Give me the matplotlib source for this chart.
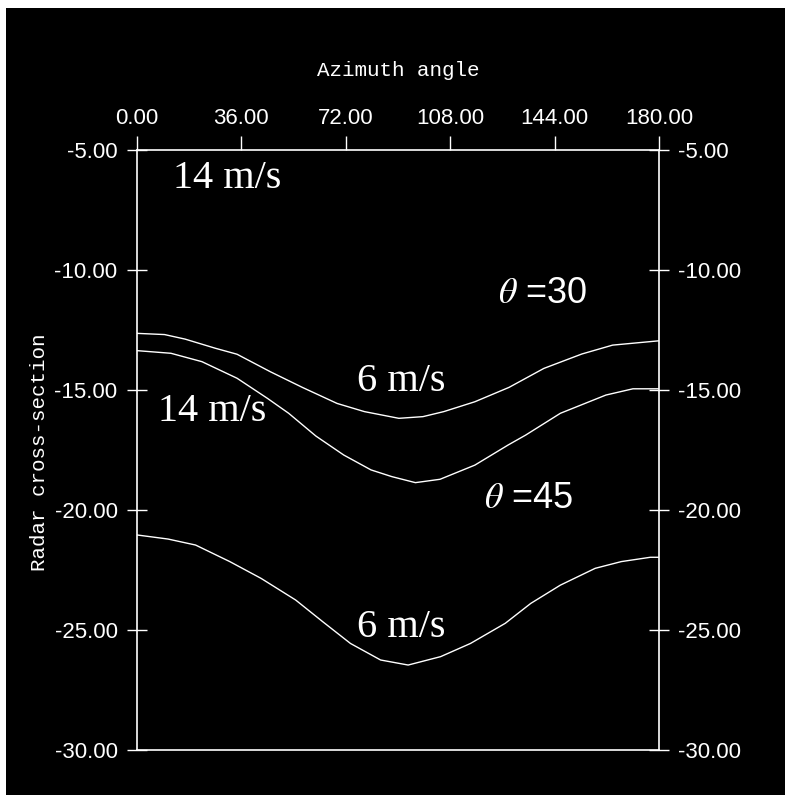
import matplotlib
matplotlib.use("Agg")
import matplotlib.pyplot as plt
from matplotlib import font_manager
from matplotlib.patches import Rectangle

# azimuth (deg) / radar cross-section
az1 = [0, 9.5, 16.6, 27, 34.5, 46, 57, 69, 78.4, 90.3, 98.6, 105.8, 116.5, 128.3, 140.3, 153.4, 164, 180]
rcs1 = [-12.64, -12.69, -12.88, -13.26, -13.51, -14.24, -14.89, -15.56, -15.9, -16.18, -16.11, -15.9,
        -15.49, -14.89, -14.1, -13.5, -13.13, -12.95]

az2 = [0, 11.7, 22.4, 34.5, 45, 52.3, 61.7, 71.3, 80.7, 87.9, 96, 104.5, 116.5, 128, 134, 146, 161.7, 171, 180]
rcs2 = [-13.36, -13.47, -13.82, -14.51, -15.35, -15.97, -16.92, -17.71, -18.33, -18.61, -18.86, -18.72,
        -18.13, -17.29, -16.88, -15.97, -15.21, -14.95, -14.95]

az3 = [0, 10.7, 20.2, 32, 42.8, 54.7, 64, 73.6, 84, 93.5, 104.7, 115, 127, 135.8, 146, 158, 167, 177, 180]
rcs3 = [-21.04, -21.21, -21.46, -22.15, -22.85, -23.75, -24.65, -25.56, -26.25, -26.46, -26.11, -25.56,
        -24.72, -23.89, -23.13, -22.43, -22.15, -21.97, -21.97]

xticks = [0, 36, 72, 108, 144, 180]
yticks = [-5, -10, -15, -20, -25, -30]

# text labels: (x, y, text)
notes = [(31, -6.2, "14 m/s"), (91, -14.65, "6 m/s"), (26, -15.9, "14 m/s"), (91, -24.9, "6 m/s")]
thetas = [(139.7, -10.96, r"$\theta$ =30"), (135, -19.5, r"$\theta$ =45")]

names = {f.name for f in font_manager.fontManager.ttflist}
tick_font = "Liberation Sans Narrow" if "Liberation Sans Narrow" in names else "Liberation Sans"
tick_size = 18 if tick_font == "Liberation Sans Narrow" else 16
plt.rcParams["mathtext.fontset"] = "stix"

fig = plt.figure(figsize=(7.85, 7.95), dpi=100, facecolor="white")
fig.patches.append(Rectangle((6 / 785, 0), 1, 1 - 8 / 795, transform=fig.transFigure,
                             facecolor="black", edgecolor="none", zorder=-1))

ax = fig.add_axes([137 / 785, 45 / 795, 522 / 785, 600 / 795])
ax.set_facecolor("black")

for a, r in [(az1, rcs1), (az2, rcs2), (az3, rcs3)]:
    ax.plot(a, r, color="white", lw=1.0)

ax.set_xlim(0, 180)
ax.set_ylim(-30, -5)
ax.set_xticks(xticks)
ax.set_xticklabels(["%.2f" % v for v in xticks])
ax.set_yticks(yticks)
ax.set_yticklabels(["%.2f" % v for v in yticks])
ax.xaxis.tick_top()
ax.tick_params(axis="x", direction="out", length=10, width=1, colors="white", pad=5,
               labelsize=tick_size)
ax.tick_params(axis="y", direction="inout", length=14, width=1, colors="white", pad=7,
               left=True, right=True, labelleft=True, labelright=True, labelsize=tick_size)
for lab in ax.get_xticklabels() + ax.get_yticklabels():
    lab.set_family(tick_font)
for sp in ax.spines.values():
    sp.set_color("white")
    sp.set_linewidth(1.2)

for x, y, t in notes:
    ax.text(x, y, t, color="white", fontsize=29, family="Liberation Serif", ha="center", va="center")
for x, y, t in thetas:
    ax.text(x, y, t, color="white", fontsize=26, family="Liberation Sans", ha="center", va="center")

fig.text(398 / 785, 1 - 71 / 795, "Azimuth angle", color="white", fontsize=15,
         family="Liberation Mono", ha="center", va="center")
fig.text(40 / 785, 1 - 452 / 795, "Radar cross-section", color="white", fontsize=15,
         family="Liberation Mono", rotation=90, ha="center", va="center")

fig.savefig("out.png", dpi=100, facecolor=fig.get_facecolor())
